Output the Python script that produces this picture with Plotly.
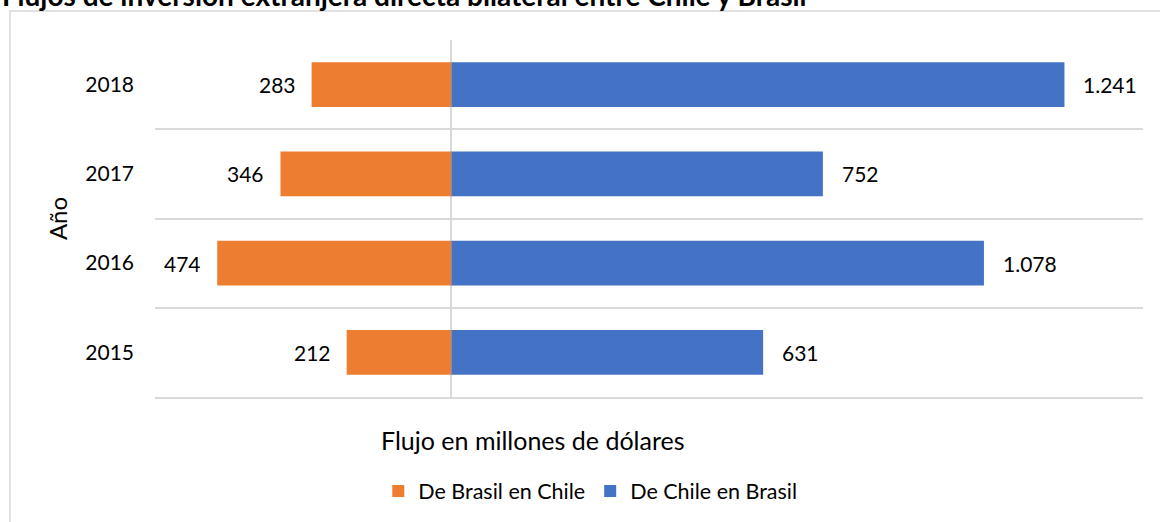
import plotly.graph_objects as go

# data
years = ["2015", "2016", "2017", "2018"]
brasil_en_chile = [212, 474, 346, 283]
chile_en_brasil = [631, 1078, 752, 1241]

ORANGE = "#ED7D31"
BLUE = "#4472C4"
GRID = "#D9D9D9"
FONT = "Lato"


def fmt(v):
    # thousands separator as dot, spanish style
    return f"{v:,}".replace(",", ".")


fig = go.Figure()

fig.add_trace(go.Bar(
    y=years, x=[-v for v in brasil_en_chile],
    orientation="h", name="De Brasil en Chile",
    marker=dict(color=ORANGE, line=dict(width=0)),
    width=0.5,
))
fig.add_trace(go.Bar(
    y=years, x=chile_en_brasil,
    orientation="h", name="De Chile en Brasil",
    marker=dict(color=BLUE, line=dict(width=0)),
    width=0.5,
))

# data labels next to each bar (category index for y, the years look numeric)
annotations = []
for i, v in enumerate(brasil_en_chile):
    annotations.append(dict(x=-v, y=i, text=fmt(v), showarrow=False,
                            xanchor="right", xshift=-14))
for i, v in enumerate(chile_en_brasil):
    annotations.append(dict(x=v, y=i, text=fmt(v), showarrow=False,
                            xanchor="left", xshift=17))

# clipped title at the top of the image
annotations.append(dict(
    xref="paper", yref="paper", x=-0.157, y=1, yshift=26,
    xanchor="left", yanchor="bottom", showarrow=False,
    text="<b>Flujos de inversión extranjera directa bilateral entre Chile y Brasil</b>",
    font=dict(size=28, color="black"),
))
# x axis title
annotations.append(dict(
    xref="paper", yref="paper", x=0.383, y=1, yshift=-400,
    xanchor="center", yanchor="middle", showarrow=False,
    text="Flujo en millones de dólares", font=dict(size=25, color="black"),
))

fig.update_layout(
    width=1160, height=522,
    margin=dict(l=155, r=17, t=40, b=124),
    paper_bgcolor="white", plot_bgcolor="white",
    font=dict(family=FONT, size=21, color="black"),
    barmode="relative",
    annotations=annotations,
    showlegend=True,
    legend=dict(
        orientation="h", x=0.226, xanchor="left", y=-0.26, yanchor="middle",
        itemwidth=30, font=dict(size=21.5), traceorder="normal",
    ),
    shapes=[dict(
        type="rect", xref="paper", yref="paper",
        x0=-0.1468, x1=1.03, y0=-0.4, y1=1.081,
        line=dict(color=GRID, width=1.5), fillcolor="rgba(0,0,0,0)", layer="below",
    )],
)

fig.update_xaxes(
    range=[-600, 1400], showgrid=False, showticklabels=False, ticks="",
    zeroline=True, zerolinecolor=GRID, zerolinewidth=1.5,
    showline=True, linecolor=GRID, linewidth=2, fixedrange=True,
)
fig.update_yaxes(
    type="category", categoryorder="array", categoryarray=years,
    range=[-0.5, 3.5], tickson="boundaries", showgrid=True,
    gridcolor=GRID, gridwidth=1.5, ticks="", ticklabelstandoff=20,
    title=dict(text="Año", standoff=10, font=dict(size=24)),
    fixedrange=True,
)

# drop the default page margin so the figure sits at the window corner
fig.write_html("out.html", config={"displayModeBar": False},
               post_script="document.body.style.margin='0';")
